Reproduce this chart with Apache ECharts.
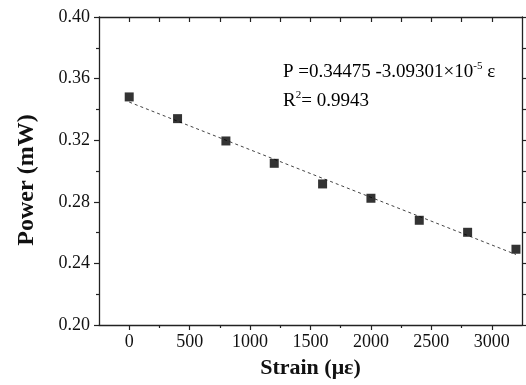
<!DOCTYPE html>
<html>
<head>
<meta charset="utf-8">
<script src="https://cdn.jsdelivr.net/npm/echarts@6/dist/echarts.min.js"></script>
<style>
  html, body { margin: 0; padding: 0; background: #fff; }
  #chart { width: 526px; height: 385px; }
</style>
</head>
<body>
<div id="chart"></div>
<script>
// Measured power at each applied strain
const strain = [0, 400, 800, 1200, 1600, 2000, 2400, 2800, 3200];
const power = [0.3481, 0.3340, 0.3195, 0.3050, 0.2916, 0.2823, 0.2680, 0.2602, 0.2492];

// Linear fit coefficients: P = intercept + slope * strain
const intercept = 0.34475;
const slope = -3.09301e-5;
const r2 = '0.9943';

// Tick positions
const xTicks = [0, 500, 1000, 1500, 2000, 2500, 3000];
const xMinorTicks = [250, 750, 1250, 1750, 2250, 2750];
const xTopTicks = [0, 250, 500, 750, 1000, 1250, 1500, 1750, 2000, 2250, 2500, 2750, 3000];
const yTicks = [0.20, 0.24, 0.28, 0.32, 0.36, 0.40];

const FONT = "'Liberation Serif', 'Times New Roman', serif";
const AXIS_COLOR = '#222';

const fitStart = strain[0];
const fitEnd = strain[strain.length - 1];
const fitLine = [
  [fitStart, intercept + slope * fitStart],
  [fitEnd, intercept + slope * fitEnd]
];

const chart = echarts.init(document.getElementById('chart'));

const axisLine = { show: true, onZero: false, lineStyle: { color: AXIS_COLOR, width: 1.3 } };

chart.setOption({
  animation: false,
  backgroundColor: '#fff',
  grid: { left: 99, right: 4, top: 17, bottom: 60 },
  xAxis: [
    {
      type: 'value', position: 'bottom', min: -250, max: 3250,
      axisLine: axisLine,
      axisTick: { show: true, length: 5, inside: false, customValues: xTicks,
                  lineStyle: { color: AXIS_COLOR, width: 1.2 } },
      axisLabel: { show: true, customValues: xTicks, margin: 8,
                   color: '#111', fontFamily: FONT, fontSize: 18,
                   formatter: v => String(v) },
      splitLine: { show: false },
      name: 'Strain (με)', nameLocation: 'middle', nameGap: 32,
      nameTextStyle: { fontFamily: FONT, fontSize: 22, fontWeight: 'bold', color: '#111' }
    },
    {
      // minor ticks on the bottom axis
      type: 'value', position: 'bottom', min: -250, max: 3250,
      axisLine: { show: false, onZero: false },
      axisTick: { show: true, length: 3, inside: false, customValues: xMinorTicks,
                  lineStyle: { color: AXIS_COLOR, width: 1.2 } },
      axisLabel: { show: false },
      splitLine: { show: false }
    },
    {
      type: 'value', position: 'top', min: -250, max: 3250,
      axisLine: axisLine,
      axisTick: { show: true, length: 5, inside: true, customValues: xTopTicks,
                  lineStyle: { color: AXIS_COLOR, width: 1.2 } },
      axisLabel: { show: false },
      splitLine: { show: false }
    }
  ],
  yAxis: [
    {
      type: 'value', position: 'left', min: 0.2, max: 0.4, interval: 0.04,
      axisLine: axisLine,
      axisTick: { show: true, length: 5, inside: false,
                  lineStyle: { color: AXIS_COLOR, width: 1.2 } },
      minorTick: { show: true, splitNumber: 2, length: 3,
                   lineStyle: { color: AXIS_COLOR, width: 1.2 } },
      axisLabel: { show: true, margin: 9, color: '#111', fontFamily: FONT, fontSize: 18,
                   customValues: yTicks,
                   formatter: v => v.toFixed(2) },
      splitLine: { show: false },
      minorSplitLine: { show: false },
      name: 'Power (mW)', nameLocation: 'middle', nameGap: 60,
      nameTextStyle: { fontFamily: FONT, fontSize: 24, fontWeight: 'bold', color: '#111',
                       padding: [0, 18, 0, 0] }
    },
    {
      type: 'value', position: 'right', min: 0.2, max: 0.4, interval: 0.04,
      axisLine: axisLine,
      axisTick: { show: true, length: 4, inside: false,
                  lineStyle: { color: AXIS_COLOR, width: 1.2 } },
      minorTick: { show: true, splitNumber: 2, length: 4,
                   lineStyle: { color: AXIS_COLOR, width: 1.2 } },
      axisLabel: { show: false },
      splitLine: { show: false },
      minorSplitLine: { show: false }
    }
  ],
  series: [
    {
      name: 'Linear fit',
      type: 'line',
      data: fitLine,
      showSymbol: false,
      symbol: 'none',
      lineStyle: { color: '#444', width: 1, type: [3, 3] },
      z: 2
    },
    {
      name: 'Power',
      type: 'scatter',
      data: strain.map((s, i) => [s, power[i]]),
      symbol: 'rect',
      symbolSize: 9,
      itemStyle: { color: '#000' },
      z: 3
    }
  ],
  graphic: [
    {
      type: 'text', left: 283, top: 61,
      style: {
        text: '{n|P =' + intercept + ' -3.09301×10}{s|-5}{n| ε}',
        rich: {
          n: { fontFamily: FONT, fontSize: 19, color: '#111', lineHeight: 21, verticalAlign: 'bottom' },
          s: { fontFamily: FONT, fontSize: 11, color: '#111', lineHeight: 21, verticalAlign: 'top' }
        }
      }
    },
    {
      type: 'text', left: 283, top: 90,
      style: {
        text: '{n|R}{s|2}{n|= ' + r2 + '}',
        rich: {
          n: { fontFamily: FONT, fontSize: 19, color: '#111', lineHeight: 21, verticalAlign: 'bottom' },
          s: { fontFamily: FONT, fontSize: 11, color: '#111', lineHeight: 21, verticalAlign: 'top' }
        }
      }
    }
  ]
});
</script>
</body>
</html>
